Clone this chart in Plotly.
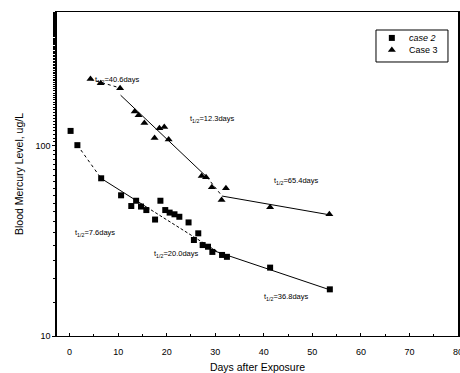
import numpy as np
import plotly.graph_objects as go

# ---- data ----
case2_days = [0.2, 1.6, 6.5, 10.6, 12.7, 13.7, 14.7, 15.8, 17.6, 18.7, 19.7, 20.6, 21.6, 22.6,
              24.5, 25.6, 26.5, 27.4, 28.5, 29.4, 31.4, 32.4, 41.3, 53.6]
case2_hg = [120, 101, 67.6, 55, 48.3, 51.5, 48, 46, 41, 51.5, 46, 44.6, 43.7, 42.4,
            39.6, 32, 34.7, 30.1, 29.5, 27.7, 26.7, 26.1, 22.9, 17.6]

case3_days = [4.3, 6.4, 10.4, 13.4, 14.2, 15.4, 17.5, 18.5, 19.5, 20.4,
              27.2, 28.1, 29.3, 31.3, 32.2, 41.3, 53.5]
case3_hg = [225, 214, 201, 152, 145, 132, 110, 124, 126, 108,
            69.5, 68.4, 60.6, 52, 59.9, 47.6, 43.7]

# fitted half-life segments (endpoints)
fit3_a_x, fit3_a_y = [4.3, 10.4], [224, 202]      # t1/2 = 40.6 d (dotted)
fit3_b_x, fit3_b_y = [10.5, 28.3], [185, 68.5]    # t1/2 = 12.3 d (solid)
fit3_c_x, fit3_c_y = [28.3, 31.4], [68.5, 54.5]   # connector (dotted)
fit3_d_x, fit3_d_y = [31.4, 53.6], [54.5, 43.4]   # t1/2 = 65.4 d (solid)
fit2_a_x, fit2_a_y = [1.6, 6.5], [101, 67.5]      # t1/2 = 7.6 d (dotted)
fit2_b_x, fit2_b_y = [6.5, 15.9], [67.5, 47.6]    # t1/2 = 20.0 d (solid part)
fit2_c_x, fit2_c_y = [15.9, 31.0], [47.6, 27.2]   # t1/2 = 20.0 d (dashed part)
fit2_d_x, fit2_d_y = [29.5, 53.6], [28.2, 17.5]   # t1/2 = 36.8 d (solid)

half_lives = ["40.6", "12.3", "65.4", "7.6", "20.0", "36.8"]
series_names = ["<i>case 2</i>", "Case 3"]

x_ticks = [0, 10, 20, 30, 40, 50, 60, 70, 80]
y_ticks = [10, 100]

FONT = "Liberation Sans, Arial, sans-serif"

fig = go.Figure()

def seg(xs, ys, dash):
    fig.add_trace(go.Scatter(x=xs, y=ys, mode="lines", showlegend=False,
                             line=dict(color="black", width=1, dash=dash),
                             hoverinfo="skip"))

seg(fit3_a_x, fit3_a_y, "dot")
seg(fit3_b_x, fit3_b_y, "solid")
seg(fit3_c_x, fit3_c_y, "dot")
seg(fit3_d_x, fit3_d_y, "solid")
seg(fit2_a_x, fit2_a_y, "dot")
seg(fit2_b_x, fit2_b_y, "solid")
seg(fit2_c_x, fit2_c_y, "3px,2px")
seg(fit2_d_x, fit2_d_y, "solid")

sq = dict(symbol="square", size=6, color="black")
tri = dict(symbol="triangle-up", size=7, color="black")

fig.add_trace(go.Scatter(x=case2_days, y=case2_hg, mode="markers", name="case 2",
                         marker=sq, showlegend=False))
fig.add_trace(go.Scatter(x=case3_days, y=case3_hg, mode="markers", name="Case 3",
                         marker=tri, showlegend=False))

# ---- hand-made compact legend (overlay axes in 0..1 units) ----
leg_mx = 0.835
leg_rows = [0.92, 0.883]
leg_tx = 0.872
fig.add_trace(go.Scatter(x=[leg_mx], y=[leg_rows[0]], xaxis="x2", yaxis="y2",
                         mode="markers", marker=dict(symbol="square", size=6, color="black"),
                         showlegend=False, hoverinfo="skip"))
fig.add_trace(go.Scatter(x=[leg_mx], y=[leg_rows[1]], xaxis="x2", yaxis="y2",
                         mode="markers", marker=tri, showlegend=False, hoverinfo="skip"))
for yy, nm in zip(leg_rows, series_names):
    fig.add_annotation(x=leg_tx, y=yy, xref="paper", yref="paper", xanchor="left",
                       yanchor="middle", text=nm, showarrow=False,
                       font=dict(family=FONT, size=9, color="black"))
fig.add_shape(type="rect", xref="paper", yref="paper", x0=0.7955, x1=0.975,
              y0=0.8457, y1=0.9444, line=dict(color="black", width=1),
              fillcolor="rgba(0,0,0,0)")

notes_pos = [
    (4.8, 2.347),
    (24.4, 2.142),
    (41.7, 1.816),
    (0.7, 1.542),
    (17.0, 1.432),
    (39.6, 1.205),
]
for (xa, ya), v in zip(notes_pos, half_lives):
    fig.add_annotation(x=xa, y=ya, xref="x", yref="y", xanchor="left", yanchor="middle",
                       text=f"t<sub>1/2</sub>={v}days", showarrow=False,
                       font=dict(family=FONT, size=7.5, color="black"))

fig.update_layout(
    width=460, height=373,
    margin=dict(l=57, r=2, t=12, b=37),
    paper_bgcolor="white", plot_bgcolor="white",
    font=dict(family=FONT, color="black", size=9),
    showlegend=False,
    xaxis=dict(range=[-2.6, 80], tickmode="array", tickvals=x_ticks, automargin=False,
               ticklabeloverflow="allow", ticklabelstandoff=7,
               showgrid=False, zeroline=False, showline=True, linecolor="black",
               linewidth=1, mirror=True, ticks="inside", ticklen=3, tickcolor="black",
               minor=dict(dtick=5, ticks="inside", ticklen=2, tickcolor="black"),
               title=dict(text="Days after Exposure", font=dict(size=10.5), standoff=7),
               tickfont=dict(size=9)),
    yaxis=dict(type="log", range=[1, 2.705], tickmode="array", tickvals=y_ticks,
               automargin=False,
               showgrid=False, zeroline=False, showline=True, linecolor="black",
               linewidth=1.5, mirror=True, ticks="outside", ticklen=3, tickcolor="black",
               minor=dict(ticks="outside", ticklen=2, tickcolor="black", showgrid=False),
               title=dict(text="Blood Mercury Level, ug/L", font=dict(size=10.5), standoff=10),
               tickfont=dict(size=9)),
    xaxis2=dict(range=[0, 1], overlaying="x", visible=False, fixedrange=True),
    yaxis2=dict(range=[0, 1], overlaying="y", visible=False, fixedrange=True),
)

fig.write_html("out.html", config={"displayModeBar": False},
               post_script="document.body.style.margin='0';document.body.style.overflow='hidden';")
